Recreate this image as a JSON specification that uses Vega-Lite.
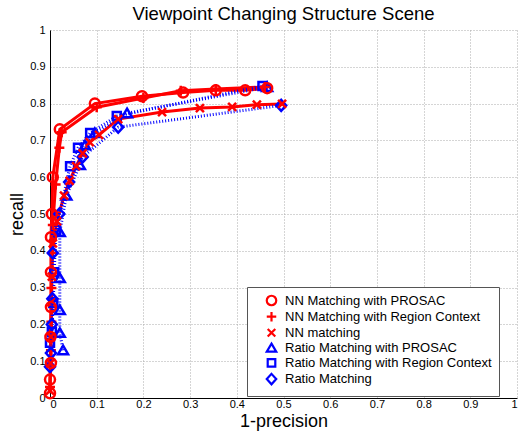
{
  "$schema": "https://vega.github.io/schema/vega-lite/v6.json",
  "width": 467,
  "height": 368,
  "autosize": "none",
  "padding": {"left": 50, "top": 30, "right": 3, "bottom": 40},
  "background": "white",
  "title": {"text": "Viewpoint Changing Structure Scene", "font": "Liberation Sans", "fontSize": 18.5, "fontWeight": "normal", "color": "black", "offset": 1},
  "config": {
    "view": {"stroke": null},
    "axis": {"domainColor": "black", "domainWidth": 1, "gridColor": "#aaaaaa", "gridDash": [1, 2], "gridWidth": 1, "ticks": false, "labelFont": "Liberation Sans", "labelFontSize": 11, "labelColor": "black", "titleFont": "Liberation Sans", "titleFontSize": 18, "titleFontWeight": "normal", "titleColor": "black"}
  },
  "data": {"values": [
    {"s": "NN Matching with PROSAC", "i": 0, "x": 0, "y": 0.013},
    {"s": "NN Matching with PROSAC", "i": 1, "x": 0, "y": 0.05},
    {"s": "NN Matching with PROSAC", "i": 2, "x": 0.002, "y": 0.095},
    {"s": "NN Matching with PROSAC", "i": 3, "x": 0.001, "y": 0.166},
    {"s": "NN Matching with PROSAC", "i": 4, "x": 0.002, "y": 0.247},
    {"s": "NN Matching with PROSAC", "i": 5, "x": 0.002, "y": 0.342},
    {"s": "NN Matching with PROSAC", "i": 6, "x": 0.002, "y": 0.437},
    {"s": "NN Matching with PROSAC", "i": 7, "x": 0.004, "y": 0.5},
    {"s": "NN Matching with PROSAC", "i": 8, "x": 0.006, "y": 0.6},
    {"s": "NN Matching with PROSAC", "i": 9, "x": 0.021, "y": 0.73},
    {"s": "NN Matching with PROSAC", "i": 10, "x": 0.096, "y": 0.8},
    {"s": "NN Matching with PROSAC", "i": 11, "x": 0.197, "y": 0.82},
    {"s": "NN Matching with PROSAC", "i": 12, "x": 0.285, "y": 0.83},
    {"s": "NN Matching with PROSAC", "i": 13, "x": 0.355, "y": 0.836},
    {"s": "NN Matching with PROSAC", "i": 14, "x": 0.418, "y": 0.836},
    {"s": "NN Matching with PROSAC", "i": 15, "x": 0.465, "y": 0.842},
    {"s": "NN Matching with Region Context", "i": 0, "x": 0, "y": 0.03},
    {"s": "NN Matching with Region Context", "i": 1, "x": 0.002, "y": 0.13},
    {"s": "NN Matching with Region Context", "i": 2, "x": 0.003, "y": 0.207},
    {"s": "NN Matching with Region Context", "i": 3, "x": 0.003, "y": 0.299},
    {"s": "NN Matching with Region Context", "i": 4, "x": 0.004, "y": 0.394},
    {"s": "NN Matching with Region Context", "i": 5, "x": 0.006, "y": 0.47},
    {"s": "NN Matching with Region Context", "i": 6, "x": 0.012, "y": 0.58},
    {"s": "NN Matching with Region Context", "i": 7, "x": 0.02, "y": 0.68},
    {"s": "NN Matching with Region Context", "i": 8, "x": 0.025, "y": 0.722},
    {"s": "NN Matching with Region Context", "i": 9, "x": 0.1, "y": 0.79},
    {"s": "NN Matching with Region Context", "i": 10, "x": 0.2, "y": 0.815},
    {"s": "NN Matching with Region Context", "i": 11, "x": 0.28, "y": 0.835},
    {"s": "NN Matching with Region Context", "i": 12, "x": 0.355, "y": 0.84},
    {"s": "NN Matching with Region Context", "i": 13, "x": 0.46, "y": 0.845},
    {"s": "NN matching", "i": 0, "x": 0, "y": 0.02},
    {"s": "NN matching", "i": 1, "x": 0.001, "y": 0.095},
    {"s": "NN matching", "i": 2, "x": 0.002, "y": 0.166},
    {"s": "NN matching", "i": 3, "x": 0.003, "y": 0.26},
    {"s": "NN matching", "i": 4, "x": 0.004, "y": 0.33},
    {"s": "NN matching", "i": 5, "x": 0.006, "y": 0.42},
    {"s": "NN matching", "i": 6, "x": 0.015, "y": 0.48},
    {"s": "NN matching", "i": 7, "x": 0.03, "y": 0.55},
    {"s": "NN matching", "i": 8, "x": 0.042, "y": 0.59},
    {"s": "NN matching", "i": 9, "x": 0.056, "y": 0.63},
    {"s": "NN matching", "i": 10, "x": 0.07, "y": 0.665},
    {"s": "NN matching", "i": 11, "x": 0.085, "y": 0.695},
    {"s": "NN matching", "i": 12, "x": 0.105, "y": 0.715},
    {"s": "NN matching", "i": 13, "x": 0.146, "y": 0.758},
    {"s": "NN matching", "i": 14, "x": 0.24, "y": 0.777},
    {"s": "NN matching", "i": 15, "x": 0.321, "y": 0.788},
    {"s": "NN matching", "i": 16, "x": 0.39, "y": 0.791},
    {"s": "NN matching", "i": 17, "x": 0.443, "y": 0.797},
    {"s": "NN matching", "i": 18, "x": 0.497, "y": 0.799},
    {"s": "Ratio Matching with PROSAC", "i": 0, "x": 0.028, "y": 0.13},
    {"s": "Ratio Matching with PROSAC", "i": 1, "x": 0.021, "y": 0.177},
    {"s": "Ratio Matching with PROSAC", "i": 2, "x": 0.021, "y": 0.239},
    {"s": "Ratio Matching with PROSAC", "i": 3, "x": 0.021, "y": 0.326},
    {"s": "Ratio Matching with PROSAC", "i": 4, "x": 0.021, "y": 0.451},
    {"s": "Ratio Matching with PROSAC", "i": 5, "x": 0.035, "y": 0.55},
    {"s": "Ratio Matching with PROSAC", "i": 6, "x": 0.064, "y": 0.633},
    {"s": "Ratio Matching with PROSAC", "i": 7, "x": 0.075, "y": 0.687},
    {"s": "Ratio Matching with PROSAC", "i": 8, "x": 0.096, "y": 0.72},
    {"s": "Ratio Matching with PROSAC", "i": 9, "x": 0.165, "y": 0.774},
    {"s": "Ratio Matching with PROSAC", "i": 10, "x": 0.465, "y": 0.845},
    {"s": "Ratio Matching with Region Context", "i": 0, "x": 0, "y": 0.15},
    {"s": "Ratio Matching with Region Context", "i": 1, "x": 0.004, "y": 0.18},
    {"s": "Ratio Matching with Region Context", "i": 2, "x": 0.007, "y": 0.258},
    {"s": "Ratio Matching with Region Context", "i": 3, "x": 0.009, "y": 0.342},
    {"s": "Ratio Matching with Region Context", "i": 4, "x": 0.013, "y": 0.457},
    {"s": "Ratio Matching with Region Context", "i": 5, "x": 0.043, "y": 0.63},
    {"s": "Ratio Matching with Region Context", "i": 6, "x": 0.06, "y": 0.68},
    {"s": "Ratio Matching with Region Context", "i": 7, "x": 0.086, "y": 0.72},
    {"s": "Ratio Matching with Region Context", "i": 8, "x": 0.143, "y": 0.766},
    {"s": "Ratio Matching with Region Context", "i": 9, "x": 0.455, "y": 0.848},
    {"s": "Ratio Matching", "i": 0, "x": 0, "y": 0.085},
    {"s": "Ratio Matching", "i": 1, "x": 0.002, "y": 0.122},
    {"s": "Ratio Matching", "i": 2, "x": 0.004, "y": 0.2},
    {"s": "Ratio Matching", "i": 3, "x": 0.005, "y": 0.27},
    {"s": "Ratio Matching", "i": 4, "x": 0.006, "y": 0.394},
    {"s": "Ratio Matching", "i": 5, "x": 0.02, "y": 0.5},
    {"s": "Ratio Matching", "i": 6, "x": 0.041, "y": 0.587},
    {"s": "Ratio Matching", "i": 7, "x": 0.07, "y": 0.655},
    {"s": "Ratio Matching", "i": 8, "x": 0.146, "y": 0.736},
    {"s": "Ratio Matching", "i": 9, "x": 0.495, "y": 0.795}
  ]},
  "encoding": {
    "x": {"field": "x", "type": "quantitative", "scale": {"domain": [0, 1], "nice": false}, "axis": {"title": "1-precision", "values": [0, 0.1, 0.2, 0.3, 0.4, 0.5, 0.6, 0.7, 0.8, 0.9, 1], "format": "~g", "labelPadding": 0, "titlePadding": 3}},
    "y": {"field": "y", "type": "quantitative", "scale": {"domain": [0, 1], "nice": false}, "axis": {"title": "recall", "values": [0, 0.1, 0.2, 0.3, 0.4, 0.5, 0.6, 0.7, 0.8, 0.9, 1], "format": "~g", "labelPadding": 5, "titlePadding": 3}}
  },
  "layer": [
    {
      "transform": [{"filter": "indexof(datum.s, 'NN') === 0"}],
      "mark": {"type": "line", "color": "#ff0000", "strokeWidth": 3},
      "encoding": {"detail": {"field": "s"}, "order": {"field": "i", "type": "quantitative"}}
    },
    {
      "transform": [{"filter": "indexof(datum.s, 'Ratio') === 0"}],
      "mark": {"type": "line", "color": "#0000ff", "strokeWidth": 3, "strokeDash": [1, 2]},
      "encoding": {"detail": {"field": "s"}, "order": {"field": "i", "type": "quantitative"}}
    },
    {
      "mark": {"type": "point", "filled": false, "strokeWidth": 2.5, "size": 100, "opacity": 1},
      "encoding": {
        "color": {"field": "s", "type": "nominal",
          "scale": {"domain": ["NN Matching with PROSAC", "NN Matching with Region Context", "NN matching", "Ratio Matching with PROSAC", "Ratio Matching with Region Context", "Ratio Matching"], "range": ["#ff0000", "#ff0000", "#ff0000", "#0000ff", "#0000ff", "#0000ff"]},
          "legend": {"orient": "none", "legendX": 197, "legendY": 257, "title": null, "fillColor": "white", "strokeColor": "#555555", "padding": 7, "labelFont": "Liberation Sans", "labelFontSize": 13, "labelColor": "black", "labelLimit": 400, "symbolSize": 90, "symbolStrokeWidth": 2.2, "rowPadding": -2.8, "symbolOffset": 11, "labelOffset": 7}},
        "shape": {"field": "s", "type": "nominal",
          "scale": {"domain": ["NN Matching with PROSAC", "NN Matching with Region Context", "NN matching", "Ratio Matching with PROSAC", "Ratio Matching with Region Context", "Ratio Matching"], "range": ["circle", "M-1,0H1M0,-1V1", "M-0.8,-0.8L0.8,0.8M-0.8,0.8L0.8,-0.8", "M0,-0.9L1,0.8L-1,0.8Z", "M-0.8,-0.8H0.8V0.8H-0.8Z", "M0,-1.1L1,0L0,1.1L-1,0Z"]},
          "legend": {"orient": "none", "legendX": 197, "legendY": 257, "title": null, "fillColor": "white", "strokeColor": "#555555", "padding": 7, "labelFont": "Liberation Sans", "labelFontSize": 13, "labelColor": "black", "labelLimit": 400, "symbolSize": 90, "symbolStrokeWidth": 2.2, "rowPadding": -2.8, "symbolOffset": 11, "labelOffset": 7}},
        "order": {"field": "i", "type": "quantitative"}
      }
    }
  ]
}
